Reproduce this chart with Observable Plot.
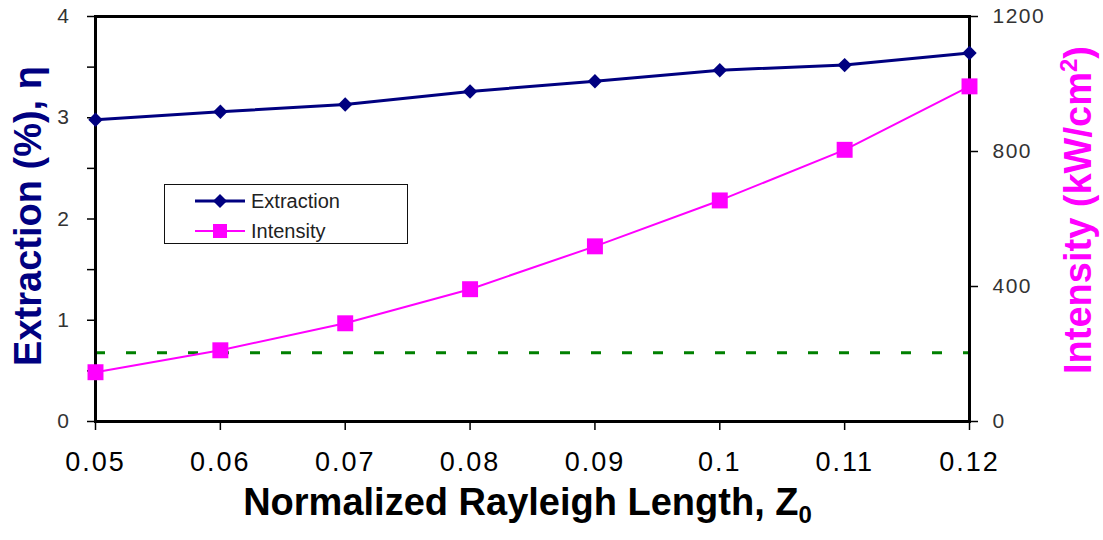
<!DOCTYPE html>
<html><head><meta charset="utf-8">
<script src="https://cdn.jsdelivr.net/npm/d3@7"></script>
<script src="https://cdn.jsdelivr.net/npm/@observablehq/plot@0.6"></script>
<style>
body{margin:0;background:#fff;}
#wrap{position:relative;width:1103px;height:540px;overflow:hidden;}
g[aria-label="x-axis tick label"] text{letter-spacing:2px;}
g[aria-label="y-axis tick label"] text{letter-spacing:1.5px;}
#legend{position:absolute;left:164px;top:184px;width:242px;height:58px;border:1.5px solid #111;background:#fff;}
</style></head><body><div id="wrap"></div>
<script>
// ---- data ----
const zValues = [0.05, 0.06, 0.07, 0.08, 0.09, 0.10, 0.11, 0.12];
const extraction = [2.98, 3.06, 3.13, 3.26, 3.36, 3.47, 3.52, 3.64];     // %
const intensity = [146, 211, 291, 392, 519, 655, 805, 993];              // kW/cm^2
const thresholdExtraction = [0.68];
const xTickValues = [0.05, 0.06, 0.07, 0.08, 0.09, 0.10, 0.11, 0.12];
const xTickLabels = ["0.05", "0.06", "0.07", "0.08", "0.09", "0.1", "0.11", "0.12"];
const leftTickValues = [0, 0.5, 1, 1.5, 2, 2.5, 3, 3.5, 4];
const leftLabelValues = [0, 1, 2, 3, 4];
const rightTickValues = [0, 400, 800, 1200];
const seriesNames = ["Extraction", "Intensity"];
const seriesColors = ["#000080", "#FF00FF"];
const leftTitle = ["Extraction (%), η"];
const rightTitle = ["Intensity (kW/cm", "2", ")"];   // base, superscript, tail
const xTitle = ["Normalized Rayleigh Length, Z", "0"]; // base, subscript
const rightMax = 1200, leftMax = 4;
const ratio = rightMax / leftMax;

const rows = zValues.map((z, i) => ({z, e: extraction[i], it: intensity[i] / ratio}));

const chart = Plot.plot({
  width: 1103, height: 540,
  marginLeft: 95, marginRight: 134, marginTop: 16, marginBottom: 119,
  style: {fontFamily: "'Liberation Sans', Arial, sans-serif", background: "#fff", color: "#000"},
  x: {domain: [0.05, 0.12]},
  y: {domain: [0, leftMax]},
  marks: [
    Plot.ruleY(thresholdExtraction, {stroke: "#008000", strokeWidth: 3, strokeDasharray: "10,21"}),
    Plot.line(rows, {x: "z", y: "it", stroke: seriesColors[1], strokeWidth: 2}),
    Plot.line(rows, {x: "z", y: "e", stroke: seriesColors[0], strokeWidth: 3}),
    Plot.frame({stroke: "#000", strokeWidth: 3}),
    Plot.axisX({ticks: xTickValues, tickSize: 9, tickPadding: 21, strokeWidth: 1.5, fontSize: 27, fill: "#000",
      tickFormat: d => xTickLabels[xTickValues.findIndex(v => Math.abs(v - d) < 1e-9)], label: null}),
    Plot.axisY({ticks: leftTickValues, tickSize: 8, tickPadding: 17, strokeWidth: 1.5, fontSize: 21, fill: "#333",
      tickFormat: d => leftLabelValues.includes(d) ? String(d) : "", label: null}),
    Plot.axisY({anchor: "right", ticks: rightTickValues.map(v => v / ratio), tickSize: 8, tickPadding: 15, strokeWidth: 1.5,
      fontSize: 21, fill: "#333", tickFormat: d => String(Math.round(d * ratio)), label: null}),
    Plot.dot(rows, {x: "z", y: "it", symbol: "square", r: 9, fill: seriesColors[1], stroke: "none"}),
    Plot.dot(rows, {x: "z", y: "e", symbol: "diamond2", r: 6.5, fill: seriesColors[0], stroke: "none"}),
    Plot.text(leftTitle, {frameAnchor: "left", textAnchor: "middle", dx: -67, dy: -3, rotate: -90, fontSize: 38, fontWeight: "bold", fill: "#000080"}),
    Plot.text([rightTitle.join("")], {frameAnchor: "right", textAnchor: "middle", dx: 109, dy: -9, rotate: -90, fontSize: 38, fontWeight: "bold", fill: "#FF00FF"}),
    Plot.text([xTitle.join("")], {frameAnchor: "bottom", textAnchor: "middle", dx: -5, dy: 93, fontSize: 38, fontWeight: "bold", fill: "#000"})
  ]
});
const wrap = document.getElementById("wrap");
wrap.appendChild(chart);

// real sub/superscripts
const SVGNS = "http://www.w3.org/2000/svg";
function scriptify(full, base, small, tail, shift) {
  const t = Array.from(chart.querySelectorAll("text")).find(el => el.textContent === full);
  if (!t) return;
  while (t.firstChild) t.removeChild(t.firstChild);
  t.appendChild(document.createTextNode(base));
  const ts = document.createElementNS(SVGNS, "tspan");
  ts.setAttribute("font-size", "24");
  ts.setAttribute("dy", shift);
  ts.textContent = small;
  t.appendChild(ts);
  if (tail) {
    const tt = document.createElementNS(SVGNS, "tspan");
    tt.setAttribute("dy", String(-shift));
    tt.textContent = tail;
    t.appendChild(tt);
  }
}
scriptify(xTitle.join(""), xTitle[0], xTitle[1], null, 8);
scriptify(rightTitle.join(""), rightTitle[0], rightTitle[1], rightTitle[2], -14);

// legend
const leg = document.createElement("div");
leg.id = "legend";
const lsvg = document.createElementNS(SVGNS, "svg");
lsvg.setAttribute("width", 242); lsvg.setAttribute("height", 58);
seriesNames.forEach((name, i) => {
  const cy = 16 + i * 30;
  const ln = document.createElementNS(SVGNS, "line");
  ln.setAttribute("x1", 30); ln.setAttribute("x2", 80); ln.setAttribute("y1", cy); ln.setAttribute("y2", cy);
  ln.setAttribute("stroke", seriesColors[i]); ln.setAttribute("stroke-width", i === 0 ? 3 : 2);
  lsvg.appendChild(ln);
  let sym;
  if (i === 0) {
    sym = document.createElementNS(SVGNS, "path");
    sym.setAttribute("d", `M55,${cy - 7}L62,${cy}L55,${cy + 7}L48,${cy}Z`);
  } else {
    sym = document.createElementNS(SVGNS, "rect");
    sym.setAttribute("x", 48); sym.setAttribute("y", cy - 7); sym.setAttribute("width", 14); sym.setAttribute("height", 14);
  }
  sym.setAttribute("fill", seriesColors[i]);
  lsvg.appendChild(sym);
  const t = document.createElementNS(SVGNS, "text");
  t.setAttribute("x", 86); t.setAttribute("y", cy + 7);
  t.setAttribute("font-family", "'Liberation Sans', Arial, sans-serif");
  t.setAttribute("font-size", 20); t.setAttribute("fill", "#222");
  t.textContent = name;
  lsvg.appendChild(t);
});
leg.appendChild(lsvg);
wrap.appendChild(leg);
</script></body></html>
